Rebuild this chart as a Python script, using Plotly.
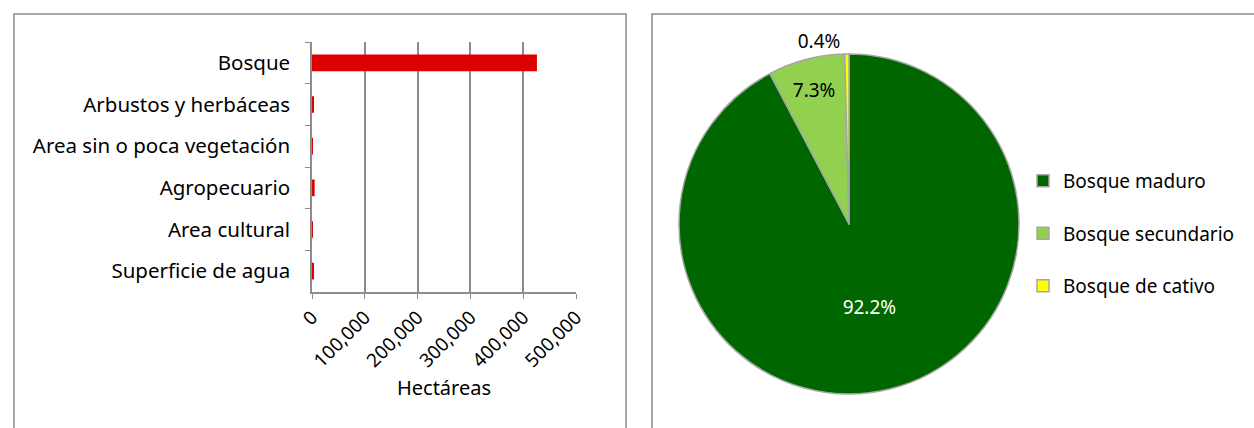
import plotly.graph_objects as go

# uso del suelo (hectáreas)
categorias = ['Bosque', 'Arbustos y herbáceas', 'Area sin o poca vegetación',
              'Agropecuario', 'Area cultural', 'Superficie de agua']
hectareas = [426000, 2500, 600, 5000, 150, 2500]
x_ticks = [0, 100000, 200000, 300000, 400000, 500000]

# composición del bosque (%)
tipos_bosque = ['Bosque maduro', 'Bosque secundario', 'Bosque de cativo']
porcentaje = [92.2, 7.3, 0.4]
colores_pie = ['#006600', '#92D050', '#FFFF00']

W, H = 1254, 428
FONT = 'Noto Sans'
GRIS = '#8c8c8c'

fig = go.Figure()

fig.add_trace(go.Bar(
    x=hectareas, y=categorias, orientation='h',
    marker=dict(color='#DD0000', line_width=0),
    showlegend=False, xaxis='x', yaxis='y',
))

# la leyenda de Excel deja mucho aire entre filas: una línea extra por entrada
fig.add_trace(go.Pie(
    labels=[t + '<br> ' for t in tipos_bosque], values=porcentaje,
    customdata=tipos_bosque, sort=False, direction='clockwise', rotation=0,
    marker=dict(colors=colores_pie, line=dict(color='#a6a6a6', width=1.5)),
    texttemplate='%{value:.1f}%',
    textposition=['inside', 'inside', 'outside'],
    insidetextorientation='horizontal',
    textfont=dict(family=FONT, size=19, color=['white', 'black', 'black']),
    domain=dict(x=[679 / W, 1019 / W], y=[(H - 394) / H, (H - 54) / H]),
    hovertemplate='%{customdata}: %{value:.1f}%<extra></extra>',
))

fig.update_layout(
    width=W, height=H,
    margin=dict(l=0, r=0, t=0, b=0),
    paper_bgcolor='white', plot_bgcolor='white',
    font=dict(family=FONT, size=20, color='#000000'),
    bargap=0.6,
    xaxis=dict(
        domain=[312 / W, 576 / W], range=[0, 500000], tickvals=x_ticks,
        tickformat=',d', tickangle=-45, showgrid=True, gridcolor=GRIS, gridwidth=1.5,
        showline=True, linecolor=GRIS, linewidth=1.5, ticks='outside', ticklen=5,
        tickcolor=GRIS, zeroline=False, automargin=False,
        tickfont=dict(size=19),
        title=dict(text='Hectáreas', standoff=9, font=dict(size=20)),
    ),
    yaxis=dict(
        domain=[(H - 292) / H, (H - 42) / H], autorange='reversed',
        showline=True, linecolor=GRIS, linewidth=1.5, ticks='outside', ticklen=5,
        tickcolor=GRIS, tickson='boundaries', showgrid=False, automargin=False,
        ticklabelstandoff=16, tickfont=dict(size=20.5),
    ),
    legend=dict(
        x=1023 / W, y=(H - 162) / H, xanchor='left', yanchor='top',
        font=dict(family=FONT, size=19), valign='top', itemwidth=30,
        bgcolor='rgba(0,0,0,0)',
    ),
    shapes=[
        dict(type='rect', xref='paper', yref='paper', x0=14 / W, x1=626 / W,
             y0=-0.1, y1=(H - 14) / H, line=dict(color=GRIS, width=1.5)),
        dict(type='rect', xref='paper', yref='paper', x0=652 / W, x1=1.1,
             y0=-0.1, y1=(H - 14) / H, line=dict(color=GRIS, width=1.5)),
    ],
)

fig.write_html('out.html', config={'displayModeBar': False},
               post_script="document.body.style.margin='0px';")
